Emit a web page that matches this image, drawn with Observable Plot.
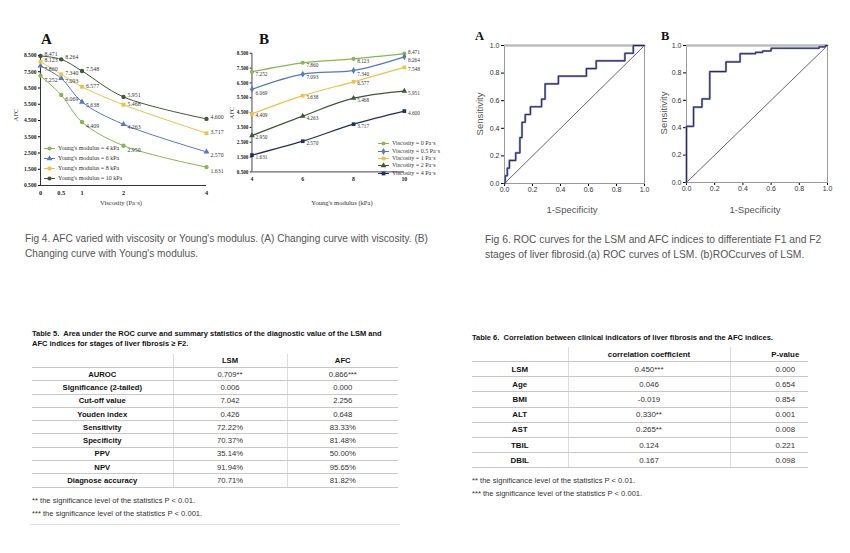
<!DOCTYPE html>
<html><head><meta charset="utf-8">
<script src="https://cdn.jsdelivr.net/npm/d3@7"></script>
<script src="https://cdn.jsdelivr.net/npm/@observablehq/plot@0.6"></script>
<style>
body{margin:0;width:850px;height:553px;position:relative;background:#fff;overflow:hidden;font-family:"Liberation Sans",Arial,sans-serif;}
.abs{position:absolute;}
.panel{position:absolute;overflow:hidden;}
.cap{position:absolute;font-size:10.1px;color:#555;line-height:14.5px;white-space:nowrap;}
.plab{position:absolute;font-family:"Liberation Serif",serif;font-weight:bold;color:#111;}
.ser{font-family:"Liberation Serif",serif;color:#333;}
.rot{position:absolute;transform:translate(-50%,-50%) rotate(-90deg);white-space:nowrap;}
.ctr{position:absolute;transform:translate(-50%,-50%);white-space:nowrap;}
.leg{position:absolute;font-family:"Liberation Serif",serif;font-size:6px;color:#333;}
.leg div{height:7px;line-height:7px;white-space:nowrap;display:flex;align-items:center;}
.leg svg{margin-right:3px;}
.fig svg [aria-label^="y-axis"] text{font-family:"Liberation Serif",serif;font-weight:bold;font-size:5.6px;fill:#222;}
.fig svg [aria-label^="x-axis"] text{font-family:"Liberation Serif",serif;font-weight:bold;font-size:6.3px;fill:#222;}
.roc svg [aria-label^="y-axis"] text,.roc svg [aria-label^="x-axis"] text{font-family:"Liberation Sans",Arial,sans-serif;font-size:7px;fill:#333;}
table{border-collapse:collapse;position:absolute;table-layout:fixed;}
td,th{padding:0;text-align:center;white-space:nowrap;line-height:9px;}
.t5 td,.t5 th{font-size:7.7px;color:#333;border-bottom:1px solid #c8c8c8;height:12.3px;}
.t5 th{font-weight:bold;color:#111;height:13px;}
.t5 td:first-child{font-weight:bold;color:#111;}
.t5 td+td,.t5 th+th{border-left:1px solid #ddd;}
.t5 tr:first-child th{border-top:1px solid #bbb;}
.t6 td,.t6 th{font-size:7.9px;color:#333;border-bottom:1px solid #c8c8c8;height:14.2px;}
.t6 th{font-weight:bold;color:#111;height:14px;}
.t6 td:first-child{font-weight:bold;color:#111;}
.t6 td+td,.t6 th+th{border-left:1px solid #ddd;}
.t6 tr:first-child th{border-top:1px solid #bbb;}
.t6 td:nth-child(3),.t6 th:nth-child(3){padding-left:32px;}
.ttl{position:absolute;font-weight:bold;color:#111;line-height:10px;white-space:nowrap;}
.fn{position:absolute;font-size:7.6px;color:#333;line-height:12.5px;white-space:nowrap;}
</style></head><body>

<div class="plab" style="left:41px;top:31px;font-size:15px">A</div>
<div class="plab" style="left:259px;top:31px;font-size:15px">B</div>
<div id="figA" class="panel fig" style="left:0;top:30px;width:232px;height:180px;overflow:visible"></div>
<div id="figB" class="panel fig" style="left:215px;top:30px;width:219px;height:180px"></div>
<div class="rot ser" style="left:15px;top:115px;font-size:6.3px">AFC</div>
<div class="rot ser" style="left:231px;top:113px;font-size:6.3px">AFC</div>
<div class="ctr ser" style="left:121px;top:202px;font-size:6.6px">Viscosity (Pa·s)</div>
<div class="ctr ser" style="left:342px;top:202px;font-size:6.6px">Young's modulus (kPa)</div>
<div id="legA" class="leg" style="left:44px;top:143px"></div>
<div id="legB" class="leg" style="left:378px;top:140px"></div>

<div class="cap" style="left:25px;top:232px">Fig 4. AFC varied with viscosity or Young's modulus. (A) Changing curve with viscosity. (B)<br>Changing curve with Young's modulus.</div>

<div class="plab" style="left:475px;top:29px;font-size:12.5px">A</div>
<div class="plab" style="left:661px;top:29px;font-size:12.5px">B</div>
<div id="rocA" class="panel roc" style="left:465px;top:25px;width:185px;height:200px;overflow:visible"></div>
<div id="rocB" class="panel roc" style="left:650px;top:25px;width:190px;height:200px;overflow:visible"></div>
<div class="rot" style="left:479px;top:114px;font-size:9.5px;color:#555">Sensitivity</div>
<div class="rot" style="left:663px;top:113px;font-size:9.5px;color:#555">Sensitivity</div>
<div class="ctr" style="left:572px;top:209px;font-size:9.5px;color:#555">1-Specificity</div>
<div class="ctr" style="left:755px;top:209px;font-size:9.5px;color:#555">1-Specificity</div>

<div class="cap" style="left:485px;top:233px;font-size:10.3px">Fig 6. ROC curves for the LSM and AFC indices to differentiate F1 and F2<br>stages of liver fibrosid.(a) ROC curves of LSM. (b)ROCcurves of LSM.</div>

<div class="ttl" style="left:32px;top:329px;font-size:7.5px">Table 5.&nbsp; Area under the ROC curve and summary statistics of the diagnostic value of the LSM and<br>AFC indices for stages of liver fibrosis ≥ F2.</div>
<table id="t5" class="t5" style="left:32px;top:354px;width:366px"></table>
<div class="fn" style="left:32px;top:495px">** the significance level of the statistics P &lt; 0.01.<br>*** the significance level of the statistics P &lt; 0.001.</div>
<div class="abs" style="left:30px;top:524px;width:370px;height:1px;background:#e2e2e2"></div>

<div class="ttl" style="left:472px;top:333px;font-size:7.5px">Table 6.&nbsp; Correlation between clinical indicators of liver fibrosis and the AFC indices.</div>
<table id="t6" class="t6" style="left:472px;top:347px;width:336px"></table>
<div class="fn" style="left:472px;top:475px">** the significance level of the statistics P &lt; 0.01.<br>*** the significance level of the statistics P &lt; 0.001.</div>

<script>
// ---------- Fig 4 data ----------
const viscosity = [0, 0.5, 1, 2, 4];          // Pa·s
const modulus = [4, 6, 8, 10];                // kPa
const afcAt4kPa  = [7.252, 6.069, 4.409, 2.950, 1.631];
const afcAt6kPa  = [7.860, 7.093, 5.638, 4.263, 2.570];
const afcAt8kPa  = [8.123, 7.340, 6.577, 5.468, 3.717];
const afcAt10kPa = [8.471, 8.264, 7.548, 5.951, 4.600];
const afcTicks = [0.5, 1.5, 2.5, 3.5, 4.5, 5.5, 6.5, 7.5, 8.5];
const modulusLabels = ["Young's modulus = 4 kPa", "Young's modulus = 6 kPa", "Young's modulus = 8 kPa", "Young's modulus = 10 kPa"];
const viscosityLabels = ["Viscosity = 0 Pa·s", "Viscosity = 0.5 Pa·s", "Viscosity = 1 Pa·s", "Viscosity = 2 Pa·s", "Viscosity = 4 Pa·s"];

// ---------- Fig 6 data ----------
const rocA_fpr = [0, 0.005, 0.02, 0.035, 0.08, 0.11, 0.125, 0.148, 0.185, 0.265, 0.29, 0.385, 0.585, 0.655, 0.86, 0.92, 1.0];
const rocA_tpr = [0, 0.056, 0.111, 0.167, 0.222, 0.333, 0.444, 0.5, 0.556, 0.611, 0.722, 0.778, 0.833, 0.889, 0.944, 1.0, 1.0];
const rocB_fpr = [0, 0, 0.05, 0.11, 0.165, 0.28, 0.38, 0.49, 0.54, 0.60, 0.94, 0.985, 1.0];
const rocB_tpr = [0, 0.41, 0.55, 0.61, 0.81, 0.88, 0.94, 0.95, 0.96, 0.98, 0.99, 1.0, 1.0];
const rocTicks = [0, 0.2, 0.4, 0.6, 0.8, 1.0];
const diagonal = [0, 1];

// ---------- Table data ----------
const t5Header = ["", "LSM", "AFC"];
const t5Rows = ["AUROC", "Significance (2-tailed)", "Cut-off value", "Youden index", "Sensitivity", "Specificity", "PPV", "NPV", "Diagnose accuracy"];
const t5LSM = ["0.709**", "0.006", "7.042", "0.426", "72.22%", "70.37%", "35.14%", "91.94%", "70.71%"];
const t5AFC = ["0.866***", "0.000", "2.256", "0.648", "83.33%", "81.48%", "50.00%", "95.65%", "81.82%"];
const t6Header = ["", "correlation coefficient", "P-value"];
const t6Rows = ["LSM", "Age", "BMI", "ALT", "AST", "TBIL", "DBIL"];
const t6Coef = ["0.450***", "0.046", "-0.019", "0.330**", "0.265**", "0.124", "0.167"];
const t6P = ["0.000", "0.654", "0.854", "0.001", "0.008", "0.221", "0.098"];

// ---------- styling ----------
const colorsA = ["#86b94c", "#5079c4", "#f2c13e", "#3e5933"];
const symbolsA = ["circle", "triangle", "square", "circle"];
const colorsB = ["#86b94c", "#5079c4", "#f2c13e", "#3e5933", "#1f2d6e"];
const symbolsB = ["circle", "diamond", "square", "triangle", "square"];
const dyA = [4, 3, -1, -2];
const dyB = [3, 4, 2, 2, 2];
const fmt3 = d3.format(".3f");

const series = [afcAt4kPa, afcAt6kPa, afcAt8kPa, afcAt10kPa];
const rowsA = modulus.flatMap((m, i) => viscosity.map((v, j) => ({k: i, v, afc: series[i][j]})));
const rowsB = viscosity.flatMap((v, j) => modulus.map((m, i) => ({k: j, m, afc: series[i][j]})));

document.getElementById("figA").append(Plot.plot({
  width: 232, height: 180, marginLeft: 40, marginRight: 26, marginTop: 25, marginBottom: 25,
  style: {background: "transparent", overflow: "visible"},
  x: {domain: [0, 4], ticks: viscosity, tickFormat: d => String(d), tickSize: 0, tickPadding: 5, label: null},
  y: {domain: [0.5, 8.5], ticks: afcTicks, tickFormat: fmt3, tickSize: 2, tickPadding: 2, label: null},
  color: {type: "ordinal", domain: d3.range(4), range: colorsA},
  symbol: {domain: d3.range(4), range: symbolsA},
  marks: [
    Plot.ruleX([0], {stroke: "#333", strokeWidth: 1}),
    Plot.ruleY([0.5], {stroke: "#333", strokeWidth: 1}),
    Plot.line(rowsA, {x: "v", y: "afc", z: "k", stroke: "k", strokeWidth: 1, curve: "catmull-rom"}),
    Plot.dot(rowsA, {x: "v", y: "afc", fill: "k", symbol: "k", r: 2.2}),
    ...d3.range(4).map(i => Plot.text(rowsA.filter(d => d.k === i), {x: "v", y: "afc", text: d => fmt3(d.afc), dx: 4, dy: dyA[i], textAnchor: "start", fontSize: 5.8, fontFamily: "Liberation Serif", fill: "#333"}))
  ]
}));

document.getElementById("figB").append(Plot.plot({
  width: 240, height: 180, marginLeft: 40, marginRight: 33, marginTop: 25, marginBottom: 25,
  style: {background: "transparent"},
  x: {domain: [4, 10], ticks: modulus, tickFormat: d => String(d), tickSize: 0, tickPadding: 5, label: null},
  y: {domain: [0.5, 8.5], ticks: afcTicks, tickFormat: fmt3, tickSize: 2, tickPadding: 2, label: null},
  color: {type: "ordinal", domain: d3.range(5), range: colorsB},
  symbol: {domain: d3.range(5), range: symbolsB},
  marks: [
    Plot.ruleX([4], {stroke: "#333", strokeWidth: 1}),
    Plot.ruleY([0.5], {stroke: "#333", strokeWidth: 1}),
    Plot.line(rowsB, {x: "m", y: "afc", z: "k", stroke: "k", strokeWidth: 1.4, curve: "catmull-rom"}),
    Plot.dot(rowsB, {x: "m", y: "afc", fill: "k", symbol: "k", r: 2.3}),
    ...d3.range(5).map(i => Plot.text(rowsB.filter(d => d.k === i && !(i === 0 && d.m === 10)), {x: "m", y: "afc", text: d => fmt3(d.afc), dx: 4, dy: dyB[i], textAnchor: "start", fontSize: 5.8, fontFamily: "Liberation Serif", fill: "#333"})),
    Plot.text(rowsB.filter(d => d.k === 0 && d.m === 10), {x: "m", y: "afc", text: d => fmt3(d.afc), dx: 4, dy: -2, textAnchor: "start", fontSize: 5.8, fontFamily: "Liberation Serif", fill: "#333"})
  ]
}));

// legends
function legend(el, labels, colors, symbols, rowH) {
  const sym = {circle: d3.symbolCircle, triangle: d3.symbolTriangle, square: d3.symbolSquare, diamond: d3.symbolDiamond};
  labels.forEach((lab, i) => {
    const row = document.createElement("div");
    row.style.height = rowH + "px";
    const svg = d3.create("svg").attr("width", 11).attr("height", 7);
    svg.append("line").attr("x1", 0).attr("x2", 11).attr("y1", 3.5).attr("y2", 3.5).attr("stroke", colors[i]).attr("stroke-width", 1);
    svg.append("path").attr("d", d3.symbol(sym[symbols[i]], 14)()).attr("transform", "translate(5.5,3.5)").attr("fill", colors[i]);
    row.append(svg.node());
    const sp = document.createElement("span"); sp.textContent = lab; row.append(sp);
    el.append(row);
  });
}
legend(document.getElementById("legA"), modulusLabels, colorsA, symbolsA, 10);
legend(document.getElementById("legB"), viscosityLabels, colorsB, symbolsB, 7.4);

// ROC plots
function roc(fpr, tpr, opts) {
  const pts = fpr.map((x, i) => ({x, y: tpr[i]}));
  return Plot.plot({
    width: opts.width, height: 200, marginLeft: opts.ml, marginRight: opts.mr, marginTop: 20, marginBottom: opts.mb,
    style: {background: "transparent", overflow: "visible"},
    x: {domain: [0, 1], ticks: rocTicks, tickFormat: d3.format(".1f"), tickSize: 3, tickPadding: 1, label: null},
    y: {domain: [0, 1], ticks: rocTicks, tickFormat: d3.format(".1f"), tickSize: 3, tickPadding: 2, label: null},
    marks: [
      Plot.frame({stroke: "#9a9a9a"}),
      Plot.ruleY([1], {stroke: "#bdbdbd", strokeWidth: 2.5}),
      Plot.line(diagonal.map(d => ({x: d, y: d})), {x: "x", y: "y", stroke: "#222", strokeWidth: 0.7}),
      Plot.line(pts, {x: "x", y: "y", curve: "step-after", stroke: "#8c90c2", strokeWidth: 2.2}),
      Plot.line(pts, {x: "x", y: "y", curve: "step-after", stroke: "#262a63", strokeWidth: 1})
    ]
  });
}
document.getElementById("rocA").append(roc(rocA_fpr, rocA_tpr, {width: 185, ml: 39, mr: 6, mb: 42}));
document.getElementById("rocB").append(roc(rocB_fpr, rocB_tpr, {width: 190, ml: 36, mr: 13, mb: 43}));

// tables
function table(el, header, names, c1, c2, widths) {
  const t = d3.select(el);
  const cg = t.append("colgroup");
  widths.forEach(w => cg.append("col").style("width", w + "px"));
  const hr = t.append("tr");
  header.forEach(h => hr.append("th").text(h));
  names.forEach((n, i) => {
    const r = t.append("tr");
    r.append("td").text(n); r.append("td").text(c1[i]); r.append("td").text(c2[i]);
  });
}
table("#t5", t5Header, t5Rows, t5LSM, t5AFC, [141, 114, 111]);
table("#t6", t6Header, t6Rows, t6Coef, t6P, [96, 162, 78]);
</script>
</body></html>
